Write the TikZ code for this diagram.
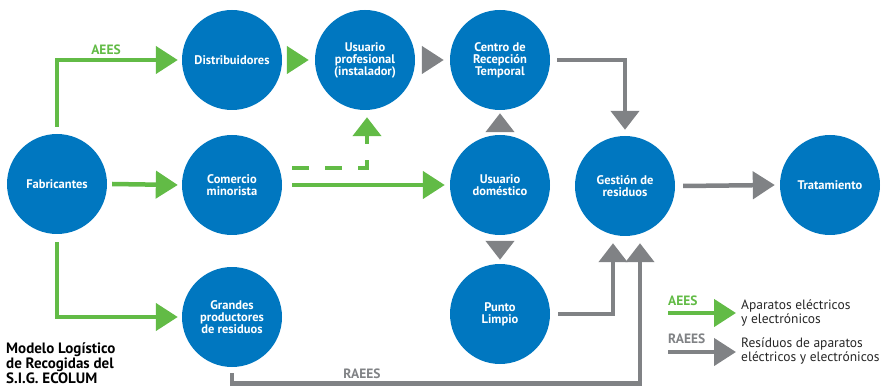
\documentclass[tikz,border=0pt]{standalone}
\usepackage{fontspec}
\setmainfont{PT Sans}
\usepackage{tikz}
\usetikzlibrary{arrows.meta,calc}
\definecolor{ecoblue}{RGB}{0,119,192}
\definecolor{ecogreen}{RGB}{98,187,70}
\definecolor{ecogray}{RGB}{128,130,133}

\begin{document}
\begin{tikzpicture}[x=1pt, y=1pt,
    circ/.style={circle, fill=ecoblue, minimum size=100pt, inner sep=0pt, text=white, align=center,
      font=\bfseries\fontsize{12.5}{12}\selectfont},
    gar/.style={draw=ecogreen, line width=4.5pt, -{Triangle[length=22pt,width=27pt]}},
    rar/.style={draw=ecogray, line width=4.5pt, -{Triangle[length=22pt,width=27pt]}},
    vtip/.style={-{Triangle[length=19pt,width=28pt]}},
    lbl/.style={font=\bfseries\fontsize{13.5}{14}\selectfont, inner sep=1pt},
    leg/.style={anchor=west, align=left, inner sep=0pt, text=black!85, font=\fontsize{13.5}{14}\selectfont}]
  \useasboundingbox (0,0) rectangle (881,386);

  \node[circ] (fab)   at (57,202)  {Fabricantes};
  \node[circ] (dist)  at (232,326) {Distribuidores};
  \node[circ] (uprof) at (365,326) {Usuario\\profesional\\(instalador)};
  \node[circ] (crt)   at (500,326) {Centro de\\Recepción\\Temporal};
  \node[circ] (com)   at (232,201) {Comercio\\minorista};
  \node[circ] (udom)  at (500,201) {Usuario\\doméstico};
  \node[circ] (gest)  at (625,200) {Gestión de\\residuos};
  \node[circ] (trat)  at (830,201) {Tratamiento};
  \node[circ] (grand) at (232,69)  {Grandes\\productores\\de residuos};
  \node[circ] (punto) at (500,72)  {Punto\\Limpio};

  \draw[gar] ([yshift=7pt]fab.north) |- ([xshift=-4pt]dist.west);
  \node[lbl, text=ecogreen] (aees) at (106,336) {AEES};
  \draw[gar] ([xshift=5pt]dist.east) -- ([xshift=-6pt]uprof.west);
  \draw[rar] ([xshift=7pt]uprof.east) -- ([xshift=-6pt]crt.west);
  \draw[gar] ([xshift=5pt]fab.east) -- ([xshift=-4pt]com.west);
  \draw[gar] ([xshift=10pt]com.east) -- ([xshift=-5pt]udom.west);
  \draw[gar, vtip, dash pattern=on 17pt off 16pt] ([xshift=10pt,yshift=17pt]com.east) -| ([xshift=2pt,yshift=-7pt]uprof.south);
  \draw[gar] ([yshift=-8pt]fab.south) |- ([xshift=-4pt]grand.west);

  \draw[rar, vtip] ([xshift=7pt]crt.east) -| ([yshift=6pt]gest.north);
  \draw[rar, vtip] ([yshift=4pt]udom.north) -- ([yshift=-3pt]crt.south);
  \draw[rar, vtip] ([yshift=-7pt]udom.south) -- ([yshift=4pt]punto.north);
  \draw[rar] ([xshift=8pt]gest.east) -- ([xshift=-5pt]trat.west);
  \draw[rar, vtip] ([xshift=8pt]punto.east) -| ([xshift=-12pt,yshift=-7pt]gest.south);
  \coordinate (rb) at (640,2.5);
  \draw[rar, vtip] ([yshift=-6pt]grand.south) |- (rb) -- ([xshift=15pt,yshift=-7pt]gest.south);
  \node[lbl, text=ecogray] (raees) at (362,12) {RAEES};

  % leyenda
  \node[lbl, text=ecogreen, anchor=west, inner sep=0pt] (lgaees) at (668,85) {AEES};
  \coordinate (lg1) at (668,73);
  \coordinate (lg2) at (736,73);
  \draw[gar] (lg1) -- (lg2);
  \node[leg] (lgt1) at (741,73) {Aparatos eléctricos\\y electrónicos};
  \node[lbl, text=ecogray, anchor=west, inner sep=0pt] (lgraees) at (668,47) {RAEES};
  \coordinate (lr1) at (668,34);
  \coordinate (lr2) at (736,34);
  \draw[rar] (lr1) -- (lr2);
  \node[leg] (lgt2) at (741,35) {Resíduos de aparatos\\eléctricos y electrónicos};

  \node[anchor=west, align=left, inner sep=0pt, font=\bfseries\fontsize{15}{13.5}\selectfont] (titulo) at (6,23)
    {Modelo Logístico\\de Recogidas del\\S.I.G. ECOLUM};
\end{tikzpicture}
\end{document}
